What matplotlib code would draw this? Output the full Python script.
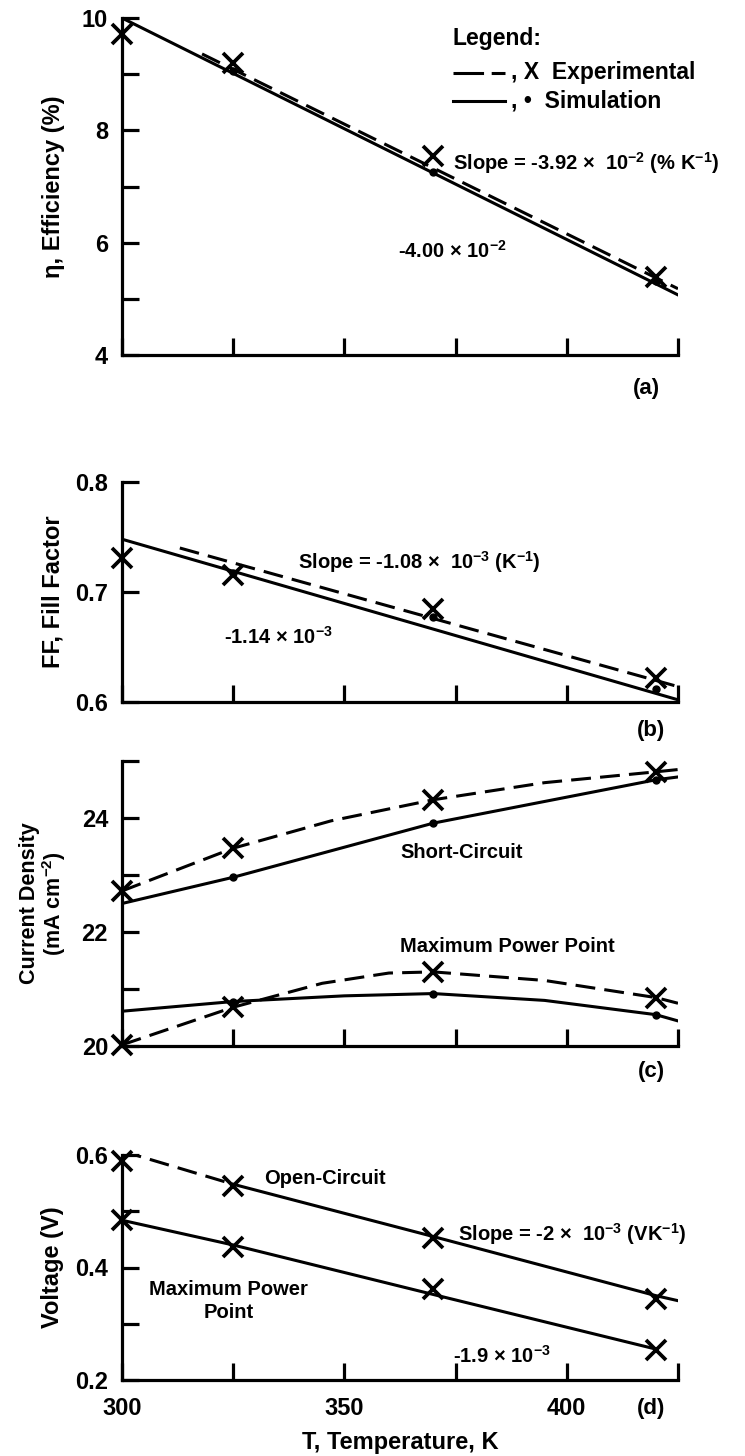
import numpy as np
import matplotlib
matplotlib.use('Agg')
import matplotlib.pyplot as plt

plt.rcParams['font.family'] = ['Liberation Sans', 'DejaVu Sans']
plt.rcParams['font.weight'] = 'bold'
plt.rcParams['mathtext.fontset'] = 'custom'
plt.rcParams['mathtext.rm'] = 'Liberation Sans:bold'
plt.rcParams['mathtext.bf'] = 'Liberation Sans:bold'
plt.rcParams['mathtext.it'] = 'Liberation Sans:bold'

# measured temperatures (K)
T = [300, 325, 370, 420]
T_sim = [325, 370, 420]

# (a) efficiency (%)
eff_exp = [9.71, 9.19, 7.54, 5.39]
eff_sim = [9.05, 7.25, 5.32]
eff_sim_line_T = [300, 425]
eff_sim_line = [10.0, 5.07]
eff_exp_line_T = [318, 425]
eff_exp_line = [9.36, 5.18]

# (b) fill factor
ff_exp = [0.731, 0.7155, 0.685, 0.622]
ff_sim = [0.717, 0.677, 0.612]
ff_sim_line_T = [300, 425]
ff_sim_line = [0.748, 0.602]
ff_exp_line_T = [313, 425]
ff_exp_line = [0.740, 0.614]

# (c) current density (mA cm-2)
sc_exp = [22.72, 23.47, 24.32, 24.81]
sc_sim = [22.96, 23.91, 24.67]
sc_exp_curve_T = [300, 325, 347, 370, 395, 420, 425]
sc_exp_curve = [22.72, 23.47, 23.95, 24.32, 24.62, 24.81, 24.85]
sc_sim_curve_T = [300, 325, 370, 420, 425]
sc_sim_curve = [22.50, 22.96, 23.91, 24.67, 24.72]
mp_exp = [20.02, 20.68, 21.30, 20.85]
mp_sim = [20.78, 20.92, 20.55]
mp_exp_curve_T = [300, 325, 345, 360, 370, 395, 420, 425]
mp_exp_curve = [20.02, 20.68, 21.10, 21.28, 21.30, 21.15, 20.85, 20.75]
mp_sim_curve_T = [300, 325, 350, 370, 395, 420, 425]
mp_sim_curve = [20.61, 20.78, 20.88, 20.92, 20.80, 20.55, 20.44]

# (d) voltage (V)
voc_exp = [0.589, 0.545, 0.452, 0.344]
voc_line_T = [300, 325, 370, 420, 425]
voc_line = [0.607, 0.548, 0.455, 0.350, 0.341]
vmp_exp = [0.484, 0.436, 0.362, 0.253]
vmp_line_T = [300, 325, 370, 420]
vmp_line = [0.484, 0.440, 0.352, 0.255]

xticks = [300, 325, 350, 375, 400, 425]
xticklabels = ['300', '', '350', '', '400', '']

LW = 2.2
DASH = (6.5, 3)
XMS = 14
ANN = 14.5   # annotation font size
LAB = 17     # axis label font size

fig = plt.figure(figsize=(7.45, 14.56), dpi=100)
L, W = 122 / 745, 556 / 745


def make_axes(top, bottom):
    H = 1456
    ax = fig.add_axes([L, 1 - bottom / H, W, (bottom - top) / H])
    for s in ['top', 'right']:
        ax.spines[s].set_visible(False)
    for s in ['left', 'bottom']:
        ax.spines[s].set_linewidth(2.3)
    ax.set_xlim(300, 425)
    ax.set_xticks(xticks)
    ax.set_xticklabels([])
    ax.tick_params(which='both', direction='in', length=12, width=2.3,
                   labelsize=17)
    ax.tick_params(axis='y', which='both', pad=10)
    ax.tick_params(axis='x', which='both', pad=12)
    return ax


def exp_marks(ax, x, y):
    ax.plot(x, y, linestyle='none', marker='x', ms=XMS, mew=2.7,
            color='black', clip_on=False, zorder=5)


def sim_dots(ax, x, y):
    ax.plot(x, y, linestyle='none', marker='o', ms=5, color='black',
            clip_on=False, zorder=5)


# ---- (a) efficiency
ax = make_axes(18, 355)
ax.set_ylim(4, 10)
ax.set_yticks([4, 6, 8, 10])
ax.set_yticks([5, 7, 9], minor=True)
ax.plot(eff_sim_line_T, eff_sim_line, color='black', lw=LW)
ax.plot(eff_exp_line_T, eff_exp_line, color='black', lw=LW, dashes=DASH)
exp_marks(ax, T, eff_exp)
sim_dots(ax, T_sim, eff_sim)
ax.set_ylabel('\u03b7, Efficiency (%)', fontsize=LAB, fontweight='bold', labelpad=12)
ax.text(374.5, 7.42, 'Slope = -3.92 \u00d7  10$^{-2}$ (% K$^{-1}$)', fontsize=ANN,
        va='center', ha='left')
ax.text(362, 5.85, '-4.00 \u00d7 10$^{-2}$', fontsize=ANN, va='center', ha='left')
# legend
ax.text(0.595, 0.94, 'Legend:', transform=ax.transAxes, fontsize=16.5, va='center')
ax.plot([0.595, 0.689], [0.837, 0.837], transform=ax.transAxes, color='black',
        lw=LW, dashes=(10, 2.5))
ax.plot([0.595, 0.689], [0.754, 0.754], transform=ax.transAxes, color='black', lw=LW)
ax.text(0.700, 0.837, ', X  Experimental', transform=ax.transAxes, fontsize=16.5,
        va='center')
ax.text(0.700, 0.754, ', \u2022  Simulation', transform=ax.transAxes, fontsize=16.5,
        va='center')
ax.text(418, 3.4, '(a)', fontsize=16, ha='center', va='center')

# ---- (b) fill factor
ax = make_axes(482, 702)
ax.set_ylim(0.6, 0.8)
ax.set_yticks([0.6, 0.7, 0.8])
ax.set_yticklabels(['0.6', '0.7', '0.8'])
ax.plot(ff_sim_line_T, ff_sim_line, color='black', lw=LW)
ax.plot(ff_exp_line_T, ff_exp_line, color='black', lw=LW, dashes=DASH)
exp_marks(ax, T, ff_exp)
sim_dots(ax, T_sim, ff_sim)
ax.set_ylabel('FF, Fill Factor', fontsize=LAB, fontweight='bold', labelpad=8)
ax.text(339.5, 0.727, 'Slope = -1.08 \u00d7  10$^{-3}$ (K$^{-1}$)', fontsize=ANN,
        va='center', ha='left')
ax.text(323, 0.659, '-1.14 \u00d7 10$^{-3}$', fontsize=ANN, va='center', ha='left')
ax.text(419, 0.574, '(b)', fontsize=16, ha='center', va='center')

# ---- (c) current density
ax = make_axes(761, 1046)
ax.set_ylim(20, 25)
ax.set_yticks([20, 22, 24])
ax.set_yticks([21, 23, 25], minor=True)
ax.plot(sc_sim_curve_T, sc_sim_curve, color='black', lw=LW)
ax.plot(sc_exp_curve_T, sc_exp_curve, color='black', lw=LW, dashes=DASH)
ax.plot(mp_sim_curve_T, mp_sim_curve, color='black', lw=LW)
ax.plot(mp_exp_curve_T, mp_exp_curve, color='black', lw=LW, dashes=DASH)
exp_marks(ax, T, sc_exp)
exp_marks(ax, T, mp_exp)
sim_dots(ax, T_sim, sc_sim)
sim_dots(ax, T_sim, mp_sim)
ax.set_ylabel('Current Density\n(mA cm$^{-2}$)', fontsize=15.5, fontweight='bold',
              labelpad=10, linespacing=1.0)
ax.text(362.5, 23.4, 'Short-Circuit', fontsize=ANN, va='center', ha='left')
ax.text(362.5, 21.75, 'Maximum Power Point', fontsize=ANN, va='center', ha='left')
ax.text(419, 19.55, '(c)', fontsize=16, ha='center', va='center')

# ---- (d) voltage
ax = make_axes(1155, 1380)
ax.set_ylim(0.2, 0.6)
ax.set_yticks([0.2, 0.4, 0.6])
ax.set_yticks([0.3, 0.5], minor=True)
ax.set_xticklabels(xticklabels)
ax.plot(voc_line_T[:2], voc_line[:2], color='black', lw=LW, dashes=DASH)
ax.plot(voc_line_T[1:], voc_line[1:], color='black', lw=LW)
ax.plot(vmp_line_T, vmp_line, color='black', lw=LW)
exp_marks(ax, T, voc_exp)
exp_marks(ax, T, vmp_exp)
ax.set_ylabel('Voltage (V)', fontsize=LAB, fontweight='bold', labelpad=8)
ax.set_xlabel('T, Temperature, K', fontsize=LAB, fontweight='bold', labelpad=8)
ax.text(332, 0.558, 'Open-Circuit', fontsize=ANN, va='center', ha='left')
ax.text(375.5, 0.46, 'Slope = -2 \u00d7  10$^{-3}$ (VK$^{-1}$)', fontsize=ANN,
        va='center', ha='left')
ax.text(324, 0.34, 'Maximum Power\nPoint', fontsize=ANN, va='center', ha='center',
        linespacing=1.3)
ax.text(374.5, 0.243, '-1.9 \u00d7 10$^{-3}$', fontsize=ANN, va='center', ha='left')
ax.text(419, 0.15, '(d)', fontsize=16, ha='center', va='center')

fig.savefig('out.png', dpi=100)
